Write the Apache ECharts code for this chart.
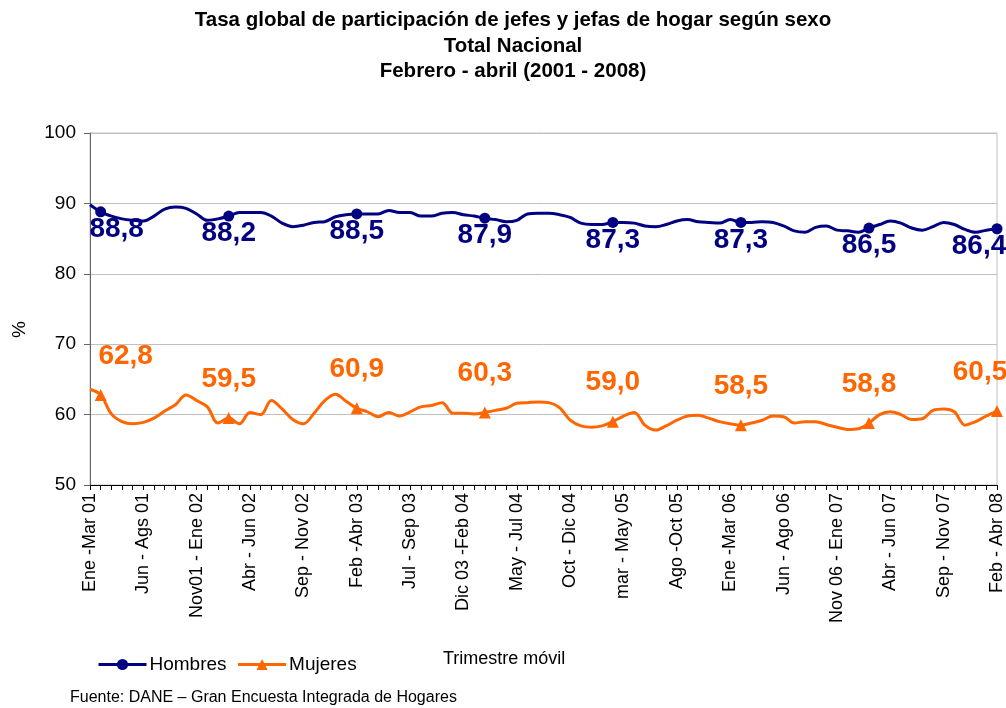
<!DOCTYPE html>
<html>
<head>
<meta charset="utf-8">
<title>Tasa global de participación</title>
<script src="https://cdn.jsdelivr.net/npm/echarts@6.0.0/dist/echarts.min.js"></script>
<style>
  html, body { margin: 0; padding: 0; background: #fff; }
  #chart { width: 1006px; height: 708px; }
</style>
</head>
<body>
<div id="chart"></div>
<script>
// trimestres móviles, ene-mar 2001 a feb-abr 2008
var categories = [
  'Ene -Mar 01', 'Feb - Abr 01', 'Mar - May 01', 'Abr - Jun 01', 'May - Jul 01',
  'Jun - Ags 01', 'Jul - Sep 01', 'Ago - Oct 01', 'Sep - Nov 01', 'Oct - Dic 01',
  'Nov01 - Ene 02', 'Dic 01 - Feb 02', 'Ene - Mar 02', 'Feb - Abr 02', 'Mar - May 02',
  'Abr - Jun 02', 'May - Jul 02', 'Jun - Ago 02', 'Jul - Sep 02', 'Ago - Oct 02',
  'Sep - Nov 02', 'Oct - Dic 02', 'Nov 02 - Ene 03', 'Dic 02 - Feb 03', 'Ene - Mar 03',
  'Feb -Abr 03', 'Mar - May 03', 'Abr - Jun 03', 'May - Jul 03', 'Jun - Ago 03',
  'Jul - Sep 03', 'Ago - Oct 03', 'Sep - Nov 03', 'Oct - Dic 03', 'Nov 03 - Ene 04',
  'Dic 03 -Feb 04', 'Ene - Mar 04', 'Feb - Abr 04', 'Mar - May 04', 'Abr - Jun 04',
  'May - Jul 04', 'Jun - Ago 04', 'Jul - Sep 04', 'Ago - Oct 04', 'Sep - Nov 04',
  'Oct - Dic 04', 'Nov 04 - Ene 05', 'Dic 04 - Feb 05', 'Ene - Mar 05', 'Feb - Abr 05',
  'mar - May 05', 'Abr - Jun 05', 'May - Jul 05', 'Jun - Ago 05', 'Jul - Sep 05',
  'Ago -Oct 05', 'Sep - Nov 05', 'Oct - Dic 05', 'Nov 05 - Ene 06', 'Dic 05 - Feb 06',
  'Ene -Mar 06', 'Feb - Abr 06', 'Mar - May 06', 'Abr - Jun 06', 'May - Jul 06',
  'Jun - Ago 06', 'Jul - Sep 06', 'Ago - Oct 06', 'Sep - Nov 06', 'Oct - Dic 06',
  'Nov 06 - Ene 07', 'Dic 06 - Feb 07', 'Ene - Mar 07', 'Feb - Abr 07', 'Mar - May 07',
  'Abr - Jun 07', 'May - Jul 07', 'Jun - Ago 07', 'Jul - Sep 07', 'Ago - Oct 07',
  'Sep - Nov 07', 'Oct - Dic 07', 'Nov 07 - Ene 08', 'Dic 07 - Feb 08', 'Ene - Mar 08',
  'Feb - Abr 08'
]

var hombres = [
  89.8, 88.8, 88.2, 87.8, 87.6, 87.5, 88.2, 89.2, 89.5, 89.3,
  88.5, 87.6, 87.8, 88.2, 88.7, 88.7, 88.7, 88.2, 87.2, 86.7,
  86.9, 87.3, 87.4, 88.1, 88.4, 88.5, 88.5, 88.5, 89.0, 88.7,
  88.7, 88.2, 88.2, 88.6, 88.7, 88.4, 88.2, 87.9, 87.7, 87.4,
  87.6, 88.5, 88.6, 88.6, 88.4, 88.0, 87.2, 87.0, 87.0, 87.3,
  87.3, 87.2, 86.8, 86.7, 87.0, 87.5, 87.7, 87.4, 87.3, 87.2,
  87.7, 87.3, 87.3, 87.4, 87.3, 86.8, 86.1, 85.9, 86.6, 86.8,
  86.2, 86.1, 85.9, 86.5, 87.0, 87.5, 87.2, 86.5, 86.2, 86.7,
  87.3, 87.0, 86.3, 85.9, 86.2, 86.4
]

var mujeres = [
  63.6, 62.8, 60.1, 59.0, 58.7, 58.9, 59.5, 60.5, 61.4, 62.8,
  62.0, 61.1, 58.8, 59.5, 58.7, 60.3, 60.0, 62.0, 60.8, 59.3,
  58.7, 60.2, 62.0, 62.9, 61.9, 60.9, 60.4, 59.7, 60.3, 59.8,
  60.4, 61.1, 61.3, 61.7, 60.2, 60.2, 60.1, 60.3, 60.6, 60.9,
  61.6, 61.7, 61.8, 61.7, 61.0, 59.2, 58.4, 58.2, 58.4, 59.0,
  59.8, 60.3, 58.5, 57.8, 58.4, 59.2, 59.8, 59.9, 59.5, 59.0,
  58.7, 58.5, 58.8, 59.2, 59.8, 59.7, 58.8, 59.0, 59.0, 58.6,
  58.2, 57.9, 58.0, 58.8, 60.0, 60.4, 60.0, 59.3, 59.4, 60.6,
  60.8, 60.4, 58.5, 59.0, 59.8, 60.5
]

// puntos feb-abr de cada año (con marcador y etiqueta)
var marcas = [1, 13, 25, 37, 49, 61, 73, 85]

var AZUL = '#000080'
var NARANJA = '#FF6600'
var FUENTE = 'Liberation Sans, Arial, sans-serif'

function buildData (values, size, offFirst, offLast) {
  return values.map(function (v, i) {
    if (marcas.indexOf(i) < 0) {
      return { value: v, symbolSize: 0 }
    }
    var off = [0, 0]
    if (i === marcas[0]) off = [offFirst, 0]
    if (i === marcas[marcas.length - 1]) off = [offLast, 0]
    return {
      value: v,
      symbolSize: size,
      label: { show: true, offset: off }
    }
  })
}

function fmt (p) {
  return p.value.toFixed(1).replace('.', ',')
}

var chart = echarts.init(document.getElementById('chart'))

var option = {
  animation: false,
  backgroundColor: '#fff',
  textStyle: { fontFamily: FUENTE },
  title: {
    text: 'Tasa global de participación de jefes y jefas de hogar según sexo\nTotal Nacional\nFebrero - abril (2001 - 2008)',
    left: 508,
    textAlign: 'center',
    top: 3,
    textStyle: {
      fontSize: 20.5,
      fontWeight: 'bold',
      color: '#000',
      lineHeight: 25.5
    }
  },
  legend: {
    left: 92,
    top: 650,
    itemWidth: 48,
    itemHeight: 14,
    itemGap: 10,
    lineStyle: { width: 3 },
    textStyle: { fontSize: 19, color: '#000', padding: [0, 0, 0, -2] },
    data: ['Hombres', 'Mujeres']
  },
  grid: {
    left: 90,
    right: 8,
    top: 133,
    bottom: 223,
    show: true,
    borderColor: '#c0c0c0',
    borderWidth: 1
  },
  xAxis: {
    type: 'category',
    data: categories,
    boundaryGap: false,
    axisLine: { lineStyle: { color: '#000', width: 1 } },
    axisTick: { interval: 0, length: 5, lineStyle: { color: '#000' } },
    axisLabel: {
      interval: 4,
      rotate: 90,
      fontSize: 18,
      color: '#000',
      margin: 8
    },
    splitLine: { show: false }
  },
  yAxis: {
    type: 'value',
    min: 50,
    max: 100,
    interval: 10,
    axisLine: { show: true, lineStyle: { color: '#666', width: 1 } },
    axisTick: { show: true, length: 6, lineStyle: { color: '#666' } },
    axisLabel: { fontSize: 19, color: '#000', margin: 14 },
    splitLine: { lineStyle: { color: '#c0c0c0', width: 1 } }
  },
  graphic: [
    {
      // nombre del eje y
      type: 'text',
      x: 10,
      y: 338,
      rotation: Math.PI / 2,
      style: { text: '%', fill: '#000', font: '19px ' + FUENTE }
    },
    {
      type: 'text',
      left: 443,
      top: 650,
      style: { text: 'Trimestre móvil', fill: '#000', font: '18px ' + FUENTE }
    },
    {
      type: 'text',
      left: 70,
      top: 690,
      style: { text: 'Fuente: DANE – Gran Encuesta Integrada de Hogares', fill: '#000', font: '16px ' + FUENTE }
    }
  ],
  series: [
    {
      name: 'Hombres',
      type: 'line',
      smooth: 0.35,
      symbol: 'circle',
      symbolSize: 10,
      showAllSymbol: true,
      data: buildData(hombres, 11, 16, -18),
      lineStyle: { color: AZUL, width: 3 },
      itemStyle: { color: AZUL },
      label: {
        show: false,
        position: 'bottom',
        distance: -2,
        fontSize: 28,
        fontWeight: 'bold',
        color: AZUL,
        formatter: fmt
      },
      z: 3
    },
    {
      name: 'Mujeres',
      type: 'line',
      smooth: 0.35,
      symbol: 'triangle',
      symbolSize: 12,
      showAllSymbol: true,
      data: buildData(mujeres, 12, 25, -17),
      lineStyle: { color: NARANJA, width: 3 },
      itemStyle: { color: NARANJA },
      label: {
        show: false,
        position: 'top',
        distance: 19,
        fontSize: 28,
        fontWeight: 'bold',
        color: NARANJA,
        formatter: fmt
      },
      z: 3
    }
  ]
}

chart.setOption(option)
</script>
</body>
</html>
